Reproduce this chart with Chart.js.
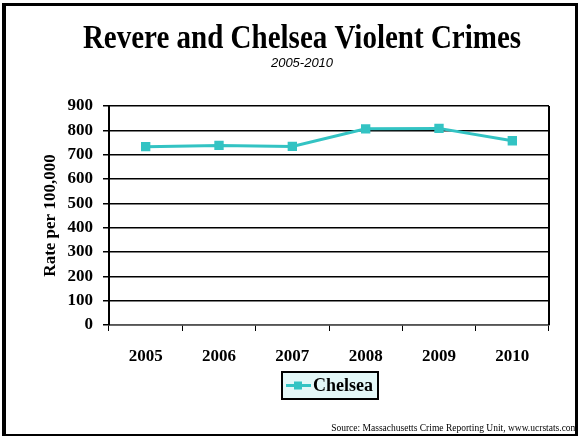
<!DOCTYPE html>
<html>
<head>
<meta charset="utf-8">
<script src="https://cdn.jsdelivr.net/npm/chart.js@4.4.1/dist/chart.umd.min.js"></script>
<style>
  html, body { margin: 0; padding: 0; background: #fff; }
  #wrap { position: relative; width: 580px; height: 436px; }
</style>
</head>
<body>
<div id="wrap"><canvas id="crimes" width="580" height="436"></canvas></div>
<script>
const years = ["2005", "2006", "2007", "2008", "2009", "2010"];
const chelsea = [733, 738, 734, 806, 808, 757];
const yTicks = [0, 100, 200, 300, 400, 500, 600, 700, 800, 900];

const serif = "'Liberation Serif', 'Times New Roman', serif";
const teal = '#33c3c3';

// title, legend box, source line and the outer frame
const decor = {
  id: 'decor',
  afterDraw(chart) {
    const c = chart.ctx;
    const a = chart.chartArea;
    c.save();

    // right edge of plot
    c.strokeStyle = '#000';
    c.lineWidth = 2;
    c.beginPath();
    c.moveTo(a.right, a.top);
    c.lineTo(a.right, a.bottom);
    c.stroke();

    c.fillStyle = '#000';
    c.textAlign = 'center';
    c.textBaseline = 'alphabetic';
    // title is a bit taller than the plain font in the original
    c.save();
    c.translate(302, 48);
    c.scale(1, 1.15);
    c.font = 'bold 29px ' + serif;
    c.fillText('Revere and Chelsea Violent Crimes', 0, 0);
    c.restore();
    c.font = "italic 13px 'Liberation Sans', Arial, sans-serif";
    c.fillText('2005-2010', 302, 67);

    // legend
    const ds = chart.data.datasets[0];
    c.fillStyle = '#e3f7f7';
    c.fillRect(282, 372, 96, 27);
    c.strokeStyle = '#000';
    c.lineWidth = 2;
    c.strokeRect(282, 372, 96, 27);
    c.strokeStyle = ds.borderColor;
    c.lineWidth = 3;
    c.beginPath();
    c.moveTo(286, 385.5);
    c.lineTo(311, 385.5);
    c.stroke();
    c.fillStyle = ds.borderColor;
    c.fillRect(294, 381.5, 8, 8);
    c.fillStyle = '#000';
    c.textAlign = 'left';
    c.textBaseline = 'middle';
    c.font = 'bold 18px ' + serif;
    c.fillText(ds.label, 313, 386);

    // source
    c.font = '9.5px ' + serif;
    c.textAlign = 'right';
    c.fillText('Source: Massachusetts Crime Reporting Unit, www.ucrstats.com', 578, 428);

    // frame
    c.fillStyle = '#000';
    c.fillRect(2, 3, 4, 433);
    c.fillRect(2, 3, 576, 3);
    c.fillRect(575, 3, 3, 433);
    c.fillRect(2, 434, 576, 2);
    c.restore();
  }
};

new Chart(document.getElementById('crimes'), {
  type: 'line',
  data: {
    labels: years,
    datasets: [{
      label: 'Chelsea',
      data: chelsea,
      borderColor: teal,
      backgroundColor: teal,
      borderWidth: 3,
      pointStyle: 'rect',
      pointRadius: 4.5,
      pointHoverRadius: 4.5,
      tension: 0
    }]
  },
  options: {
    responsive: false,
    animation: false,
    layout: { padding: { top: 106, right: 31, left: 40, bottom: 0 } },
    plugins: {
      legend: { display: false },
      title: { display: false },
      tooltip: { enabled: false }
    },
    scales: {
      x: {
        offset: true,
        afterFit: s => { s.height = 111; },
        grid: { drawOnChartArea: false, drawTicks: true, tickLength: 6, color: '#000', offset: true },
        border: { color: '#555', width: 1.5 },
        ticks: { color: '#000', padding: 15, font: { family: serif, size: 17, weight: 'bold' } }
      },
      y: {
        min: 0,
        max: 900,
        afterFit: s => { s.width = 69; },
        afterBuildTicks: s => { s.ticks = yTicks.map(v => ({ value: v })); },
        grid: { color: '#000', lineWidth: 1.5, tickLength: 6, drawTicks: true },
        border: { color: '#000', width: 2 },
        ticks: { color: '#000', padding: 10, font: { family: serif, size: 17, weight: 'bold' } },
        title: {
          display: true,
          text: 'Rate per 100,000',
          color: '#000',
          padding: { top: 0, bottom: 4 },
          font: { family: serif, size: 17, weight: 'bold' }
        }
      }
    }
  },
  plugins: [decor]
});
</script>
</body>
</html>
